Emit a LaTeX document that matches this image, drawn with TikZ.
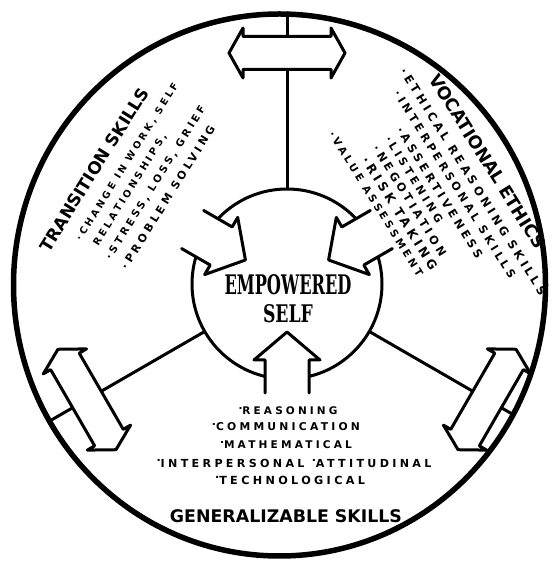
\documentclass[tikz,border=0pt]{standalone}
\usepackage{fontspec}
\usepackage{graphicx}
\setmainfont{DejaVu Sans}
\newfontfamily\bodyf{DejaVu Sans}[LetterSpace=30]
\newfontfamily\headf{DejaVu Sans}
\newfontfamily\slabf{DejaVu Serif}
\usetikzlibrary{calc,shapes.geometric}
\newcommand\fitw[2]{\resizebox{#1pt}{!}{#2}}
\newcommand\gdot{\raisebox{.5em}{.}}
\tikzset{
  ln/.style={line width=3pt, line cap=round, line join=round},
  outerln/.style={line width=5.5pt},
  bodytxt/.style={inner sep=0pt, font=\bodyf\bfseries},
  headtxt/.style={inner sep=0pt, font=\headf\bfseries},
  slabtxt/.style={inner sep=0pt, font=\slabf\bfseries},
}
\newcommand\inarrow[1]{%
  \begin{scope}[shift={(287,278)}, rotate=#1]
    \fill[white] (109,22) -- (76,22) -- (76,33) -- (48,0) -- (76,-33) -- (76,-22) -- (109,-22) -- cycle;
    \draw[ln] (109,22) -- (76,22) -- (76,33) -- (48,0) -- (76,-33) -- (76,-22) -- (109,-22);
  \end{scope}}
\newcommand\dblarrow[1]{%
  \begin{scope}[shift={($(287,278)+(#1:231)$)}, rotate=#1+90]
    \filldraw[ln, fill=white] (-58,0) -- (-44,25) -- (-44,16.5) -- (44,16.5) -- (44,25) -- (58,0)
      -- (44,-25) -- (44,-16.5) -- (-44,-16.5) -- (-44,-25) -- cycle;
  \end{scope}}
\begin{document}
\begin{tikzpicture}[x=1pt, y=1pt]
  \useasboundingbox (0,0) rectangle (554,562);
  \fill[white] (0,0) rectangle (554,562);
  % outer circle
  \node[ellipse, draw, outerln, minimum width=532pt, minimum height=542pt, inner sep=0pt] (outer) at (279.5,277) {};
  % inner circle
  \node[circle, draw, ln, minimum size=190pt, inner sep=0pt] (self) at (287,278) {};
  % spoke ends
  \coordinate (eT) at (287,549);
  \coordinate (eL) at ($(287,278)+(210:274)$);
  \coordinate (eR) at ($(287,278)+(330:261)$);
  \draw[ln] (self.90) -- (eT);
  \draw[ln] (self.210) -- (eL);
  \draw[ln] (self.330) -- (eR);
  % inward arrows
  \inarrow{150}
  \inarrow{30}
  \inarrow{270}
  % double arrows on spokes
  \dblarrow{90}
  \dblarrow{210}
  \dblarrow{330}
  % centre text
  \node[slabtxt] (emp) at (288,277) {\resizebox{127pt}{20pt}{EMPOWERED}};
  \node[slabtxt] (slf) at (288,248) {\resizebox{50pt}{18pt}{SELF}};
  % transition skills
  \node[headtxt, rotate=58, anchor=west] (ts0) at (44,312) {\fitw{189}{TRANSITION SKILLS}};
  \node[bodytxt, rotate=58, anchor=west] (ts1) at (78.6,321.8) {\fitw{184}{·CHANGE IN WORK, SELF}};
  \node[bodytxt, rotate=58, anchor=west] (ts2) at (95.7,317.1) {\fitw{130}{RELATIONSHIPS,}};
  \node[bodytxt, rotate=58, anchor=west] (ts3) at (108.3,303.2) {\fitw{179}{·STRESS, LOSS, GRIEF}};
  \node[bodytxt, rotate=58, anchor=west] (ts4) at (123.6,293.7) {\fitw{167}{·PROBLEM SOLVING}};
  % vocational ethics
  \node[headtxt, rotate=-58, anchor=west] (ve0) at (433.9,486.5) {\fitw{202}{VOCATIONAL ETHICS}};
  \node[bodytxt, rotate=-58, anchor=west] (ve1) at (402.8,493) {\fitw{265}{·ETHICAL REASONING SKILLS}};
  \node[bodytxt, rotate=-58, anchor=west] (ve2) at (396.8,470.4) {\fitw{219}{·INTERPERSONAL SKILLS}};
  \node[bodytxt, rotate=-58, anchor=west] (ve3) at (399.4,434.2) {\fitw{152}{·ASSERTIVENESS}};
  \node[bodytxt, rotate=-58, anchor=west] (ve4) at (387.8,424.6) {\fitw{99}{·LISTENING}};
  \node[bodytxt, rotate=-58, anchor=west] (ve5) at (375.6,415.8) {\fitw{128}{·NEGOTIATION}};
  \node[bodytxt, rotate=-58, anchor=west] (ve6) at (364.9,404.5) {\fitw{131}{·RISK TAKING}};
  \node[bodytxt, rotate=-58, anchor=west] (ve7) at (331.5,429.6) {\fitw{168}{·VALUE ASSESSMENT}};
  % generalizable skills
  \node[bodytxt] (gs1) at (288,151) {\fitw{99}{\gdot REASONING}};
  \node[bodytxt] (gs2) at (286,135) {\fitw{148}{\gdot COMMUNICATION}};
  \node[bodytxt] (gs3) at (286,117) {\fitw{132}{\gdot MATHEMATICAL}};
  \node[bodytxt] (gs4) at (294,99) {\fitw{275}{\gdot INTERPERSONAL \gdot ATTITUDINAL}};
  \node[bodytxt] (gs5) at (290,82) {\fitw{150}{\gdot TECHNOLOGICAL}};
  \node[headtxt] (gs0) at (286,46) {\fitw{232}{GENERALIZABLE SKILLS}};
\end{tikzpicture}
\end{document}
